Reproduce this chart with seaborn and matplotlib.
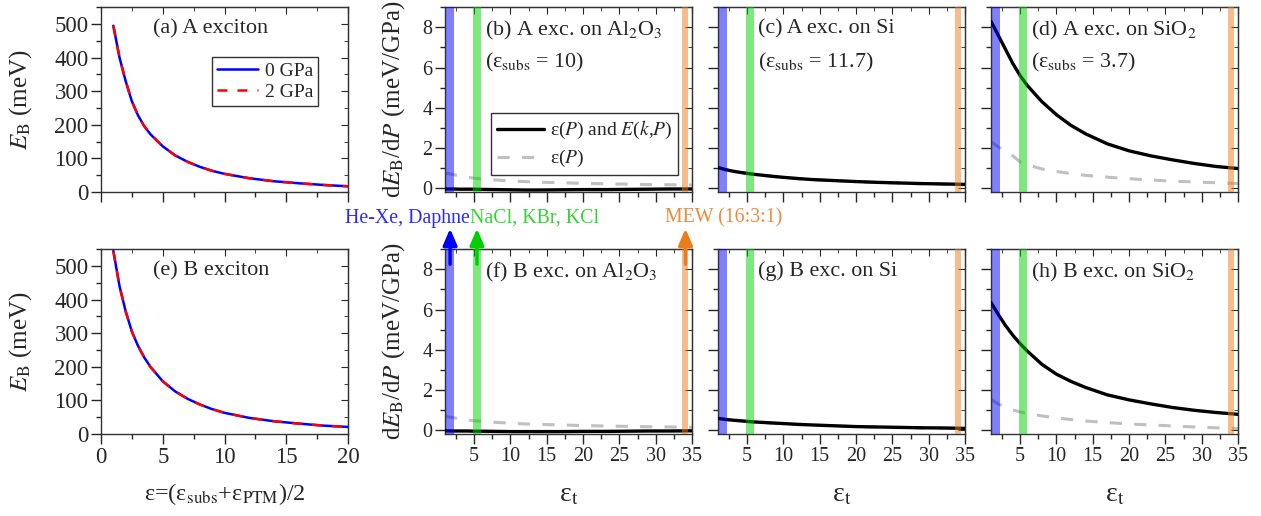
import numpy as np
import pandas as pd
import matplotlib
matplotlib.use('Agg')
import matplotlib.pyplot as plt
import matplotlib.transforms as mtransforms
from matplotlib.ticker import MultipleLocator, NullFormatter
import seaborn as sns

# ---- data ----
eps = [1, 1.5, 2, 2.5, 3, 3.5, 4, 5, 6, 7, 8, 9, 10, 12, 14, 16, 18, 20]
EB_A_0GPa = [495, 400, 330, 270, 228, 196, 172, 136, 109, 90, 75, 63, 54, 41, 32, 26, 21, 17]
EB_A_2GPa = [494, 400, 330, 270, 228, 196, 172, 136, 109, 90, 75, 63, 54, 41, 32, 26, 21, 17]
EB_B_0GPa = [545, 440, 365, 305, 262, 228, 200, 157, 127, 105, 88, 74, 63, 48, 38, 31, 25, 21]
EB_B_2GPa = [544, 440, 365, 305, 262, 228, 200, 157, 127, 105, 88, 74, 63, 48, 38, 31, 25, 21]

eps_t = [1, 2, 3, 4, 5, 6, 8, 10, 12, 14, 17, 20, 23, 26, 29, 32, 35]
# black: eps(P) and E(k,P); gray: eps(P)
A_al2o3_full = [-0.05, -0.05, -0.06, -0.06, -0.06, -0.07, -0.08, -0.09, -0.1, -0.1, -0.09, -0.08, -0.08, -0.07, -0.06, -0.05, -0.05]
A_al2o3_eps = [0.75, 0.68, 0.6, 0.54, 0.49, 0.45, 0.4, 0.35, 0.32, 0.29, 0.26, 0.23, 0.21, 0.19, 0.17, 0.16, 0.15]
A_si_full = [1.02, 0.92, 0.84, 0.78, 0.73, 0.68, 0.6, 0.53, 0.47, 0.42, 0.37, 0.32, 0.28, 0.25, 0.22, 0.2, 0.18]
A_si_eps = [1.0, 0.9, 0.82, 0.76, 0.71, 0.67, 0.59, 0.52, 0.46, 0.41, 0.36, 0.31, 0.27, 0.24, 0.21, 0.19, 0.17]
A_sio2_full = [8.3, 7.6, 6.9, 6.2, 5.6, 5.1, 4.3, 3.65, 3.12, 2.7, 2.2, 1.85, 1.6, 1.4, 1.22, 1.07, 0.97]
A_sio2_eps = [2.3, 2.05, 1.82, 1.6, 1.3, 1.15, 0.95, 0.82, 0.72, 0.63, 0.54, 0.46, 0.4, 0.34, 0.3, 0.26, 0.22]
B_al2o3_full = [-0.04, -0.05, -0.05, -0.05, -0.06, -0.06, -0.07, -0.08, -0.08, -0.08, -0.08, -0.07, -0.07, -0.06, -0.05, -0.05, -0.04]
B_al2o3_eps = [0.68, 0.62, 0.56, 0.5, 0.46, 0.43, 0.38, 0.34, 0.3, 0.28, 0.25, 0.22, 0.2, 0.18, 0.16, 0.15, 0.14]
B_si_full = [0.58, 0.53, 0.49, 0.46, 0.43, 0.4, 0.36, 0.32, 0.28, 0.25, 0.21, 0.17, 0.15, 0.13, 0.11, 0.1, 0.08]
B_si_eps = [0.56, 0.51, 0.47, 0.44, 0.41, 0.38, 0.34, 0.3, 0.27, 0.24, 0.2, 0.16, 0.14, 0.12, 0.1, 0.09, 0.07]
B_sio2_full = [6.35, 5.75, 5.2, 4.72, 4.3, 3.93, 3.27, 2.78, 2.42, 2.12, 1.75, 1.5, 1.3, 1.12, 0.98, 0.87, 0.78]
B_sio2_eps = [1.52, 1.3, 1.12, 1.0, 0.9, 0.82, 0.7, 0.6, 0.52, 0.45, 0.37, 0.3, 0.25, 0.2, 0.15, 0.11, 0.07]

# pressure transmitting media: dielectric constant ranges
ptm_names = ['He-Xe, Daphne', 'NaCl, KBr, KCl', 'MEW (16:3:1)']
ptm_lo = [1.2, 4.9, 33.6]
ptm_hi = [2.2, 5.9, 34.5]
ptm_arrow = [1.7, 5.4, 34.1]

sns.set_style('ticks')
plt.rcParams['font.family'] = ['Liberation Serif', 'DejaVu Serif']
plt.rcParams['mathtext.fontset'] = 'stix'
plt.rcParams['font.size'] = 14

fig = plt.figure(figsize=(12.61, 5.16), dpi=100)
lefts = [0.0801, 0.3529, 0.5694, 0.7859]
bottoms = [0.6279, 0.1589]
w, h = 0.1959, 0.358

band_cols = ['#0000ff', '#00d000', '#eb7d19']
text_cols = ['#2a2aff', '#33d633', '#f08a3a']


def style_axis(ax, xmaj, xmin, ymaj, ymin, xlabels, ylabels, lsize):
    ax.xaxis.set_major_locator(MultipleLocator(xmaj))
    ax.xaxis.set_minor_locator(MultipleLocator(xmin))
    ax.yaxis.set_major_locator(MultipleLocator(ymaj))
    ax.yaxis.set_minor_locator(MultipleLocator(ymin))
    ax.tick_params(which='major', direction='out', length=7, width=1, labelsize=lsize, pad=2)
    ax.tick_params(which='minor', direction='out', length=3.5, width=1)
    if not xlabels:
        ax.xaxis.set_major_formatter(NullFormatter())
    if not ylabels:
        ax.yaxis.set_major_formatter(NullFormatter())
    for s in ax.spines.values():
        s.set_visible(True)
        s.set_linewidth(1)
        s.set_color('#333333')
    top = ax.secondary_xaxis('top')
    top.xaxis.set_major_locator(MultipleLocator(xmaj))
    top.xaxis.set_minor_locator(MultipleLocator(xmin))
    top.tick_params(which='major', direction='in', length=5, labeltop=False)
    top.tick_params(which='minor', direction='in', length=3)
    right = ax.secondary_yaxis('right')
    right.yaxis.set_major_locator(MultipleLocator(ymaj))
    right.yaxis.set_minor_locator(MultipleLocator(ymin))
    right.tick_params(which='major', direction='in', length=5, labelright=False)
    right.tick_params(which='minor', direction='in', length=3)


# ---- left column: E_B vs eps ----
eb_sets = [(EB_A_0GPa, EB_A_2GPa, '(a) A exciton'), (EB_B_0GPa, EB_B_2GPa, '(e) B exciton')]
for r, (e0, e2, title) in enumerate(eb_sets):
    ax = fig.add_axes([lefts[0], bottoms[r], w, h])
    sns.lineplot(x=eps, y=e0, ax=ax, color='#0000ff', lw=1.8, label='0 GPa', zorder=3)
    sns.lineplot(x=eps, y=e2, ax=ax, color='#ff0000', lw=1.8, linestyle=(0, (4, 4)),
                 label='2 GPa', zorder=4)
    ax.set_xlim(0, 20)
    ax.set_ylim(0, 550)
    style_axis(ax, 5, 2.5, 100, 50, r == 1, True, 16.5)
    ax.set_ylabel(r'$E_\mathrm{B}$ (meV)', fontsize=18)
    ax.yaxis.set_label_coords(-0.27, 0.5)
    ax.text(0.21, 0.935, title, transform=ax.transAxes, va='top', ha='left', fontsize=16)
    if r == 0:
        ax.legend(loc='upper left', bbox_to_anchor=(0.45, 0.73), frameon=True, fancybox=False,
                  edgecolor='black', fontsize=14, handlelength=2.1, borderpad=0.25,
                  labelspacing=0.2, handletextpad=0.35, borderaxespad=0)
        ax.get_legend().get_frame().set_linewidth(1)
    else:
        ax.get_legend().remove()
        ax.set_xlabel(r'ε=(ε$_\mathrm{subs}$+ε$_\mathrm{PTM}$)/2', fontsize=17.5, labelpad=10)

# ---- dE_B/dP panels ----
panels = [
    [(A_al2o3_full, A_al2o3_eps, r'(b) A exc. on Al$_2$O$_3$', r'(ε$_\mathrm{subs}$ = 10)'),
     (A_si_full, A_si_eps, '(c) A exc. on Si', r'(ε$_\mathrm{subs}$ = 11.7)'),
     (A_sio2_full, A_sio2_eps, r'(d) A exc. on SiO$_2$', r'(ε$_\mathrm{subs}$ = 3.7)')],
    [(B_al2o3_full, B_al2o3_eps, r'(f) B exc. on Al$_2$O$_3$', None),
     (B_si_full, B_si_eps, '(g) B exc. on Si', None),
     (B_sio2_full, B_sio2_eps, r'(h) B exc. on SiO$_2$', None)],
]
axes = {}
for r in range(2):
    for c in range(3):
        full, epsonly, title, sub = panels[r][c]
        ax = fig.add_axes([lefts[c + 1], bottoms[r], w, h])
        axes[(r, c)] = ax
        sns.lineplot(x=eps_t, y=epsonly, ax=ax, color='#c0c0c0', lw=2.2,
                     linestyle=(0, (4, 4)), label='ε($P$)', zorder=2)
        sns.lineplot(x=eps_t, y=full, ax=ax, color='black', lw=2.4,
                     label='ε($P$) and $E$($k$,$P$)', zorder=3)
        for lo, hi, col in zip(ptm_lo, ptm_hi, band_cols):
            ax.axvspan(lo, hi, color=col, alpha=0.5, lw=0, zorder=5)
        ax.set_xlim(1, 35)
        ax.set_ylim(-0.2, 9)
        style_axis(ax, 5, 2.5, 2, 1, r == 1, c == 0, 14.5)
        ax.text(0.16, 0.935, title, transform=ax.transAxes,
                va='top', ha='left', fontsize=15.8)
        if sub:
            ax.text(0.16, 0.765, sub, transform=ax.transAxes, va='top', ha='left', fontsize=15.8)
        if c == 0:
            ax.set_ylabel(r'd$E_\mathrm{B}$/d$P$ (meV/GPa)', fontsize=18)
            ax.yaxis.set_label_coords(-0.155, 0.5)
        else:
            ax.set_ylabel('')
        if r == 1:
            ax.set_xlabel(r'ε$_\mathrm{t}$', fontsize=20, labelpad=12)
        if r == 0 and c == 0:
            handles, labels = ax.get_legend_handles_labels()
            leg = ax.legend(handles[::-1], labels[::-1], loc='upper left',
                            bbox_to_anchor=(0.187, 0.425), frameon=True, fancybox=False,
                            edgecolor='black', fontsize=14, handlelength=2.4, borderpad=0.3,
                            labelspacing=0.35, handletextpad=0.3, borderaxespad=0)
            leg.get_frame().set_linewidth(1)
        else:
            ax.get_legend().remove()

# ---- PTM arrows and labels between the rows ----
axf = axes[(1, 0)]
trans = mtransforms.blended_transform_factory(axf.transData, fig.transFigure)
for x, col in zip(ptm_arrow, band_cols):
    axf.annotate('', xy=(x, 0.557), xycoords=trans, xytext=(x, 0.488), textcoords=trans,
                 arrowprops=dict(arrowstyle='-|>,head_length=0.7,head_width=0.3',
                                 color=col, lw=2.5, shrinkA=0, shrinkB=0),
                 annotation_clip=False)
text_x = [407 / 1261, 535 / 1261, 724 / 1261]
for name, tx, col in zip(ptm_names, text_x, text_cols):
    fig.text(tx, 1 - 218 / 516, name, color=col, ha='center', va='center', fontsize=14.3)

fig.savefig('out.png', dpi=100)
